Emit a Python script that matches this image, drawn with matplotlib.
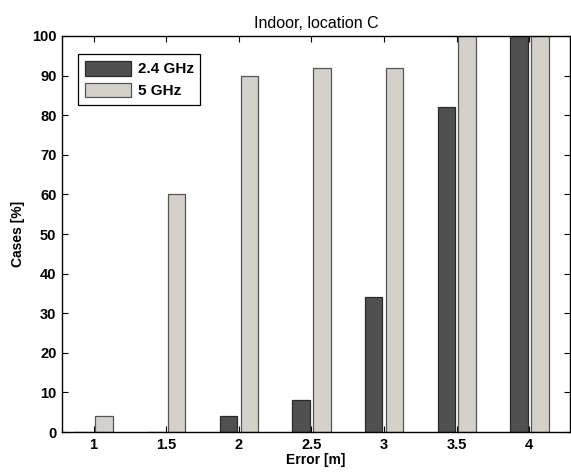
import matplotlib
matplotlib.use("Agg")
import matplotlib.pyplot as plt
import numpy as np

plt.rcParams['font.family'] = ['Liberation Sans', 'DejaVu Sans']

errors = [1, 1.5, 2, 2.5, 3, 3.5, 4]
ghz24 = [0, 0, 4, 8, 34, 82, 100]
ghz5 = [4, 60, 90, 92, 92, 100, 100]
xtick_labels = ['1', '1.5', '2', '2.5', '3', '3.5', '4']
yticks = list(range(0, 101, 10))

fig = plt.figure(figsize=(5.71, 4.73), dpi=100)
ax = fig.add_axes([62/571, 1-432/473, (570-62)/571, (432-36)/473])

x = np.array(errors)
w = 0.12
off = 0.072
ax.bar(x - off, ghz24, width=w, color='#505050', edgecolor='#2a2a2a', linewidth=0.9, label='2.4 GHz', zorder=2)
ax.bar(x + off, ghz5, width=w, color='#d5d1c9', edgecolor='#555555', linewidth=0.9, label='5 GHz', zorder=2)

ax.set_xlim(0.783, 4.28)
ax.set_ylim(0, 100)
ax.set_xticks(errors)
ax.set_xticklabels(xtick_labels, fontweight='bold', fontsize=10.5)
ax.set_yticks(yticks)
ax.set_yticklabels([str(v) for v in yticks], fontweight='bold', fontsize=10.5)
ax.tick_params(direction='in', top=True, right=True, length=4, width=0.8, pad=4)
for s in ax.spines.values():
    s.set_linewidth(1.0)

ax.set_title('Indoor, location C', fontsize=11.5, pad=6)
ax.set_xlabel('Error [m]', fontweight='bold', fontsize=10, labelpad=1)
ax.set_ylabel('Cases [%]', fontweight='bold', fontsize=10, labelpad=5)

leg = ax.legend(loc='upper left', bbox_to_anchor=((78-62)/508, 1-(54-36)/396),
                borderaxespad=0, prop={'weight': 'bold', 'size': 11},
                fancybox=False, edgecolor='black', framealpha=1, handlelength=3.05, handleheight=1.1,
                borderpad=0.45, labelspacing=0.4, handletextpad=0.4)
leg.get_frame().set_linewidth(0.9)

fig.savefig('out.png', dpi=100)
